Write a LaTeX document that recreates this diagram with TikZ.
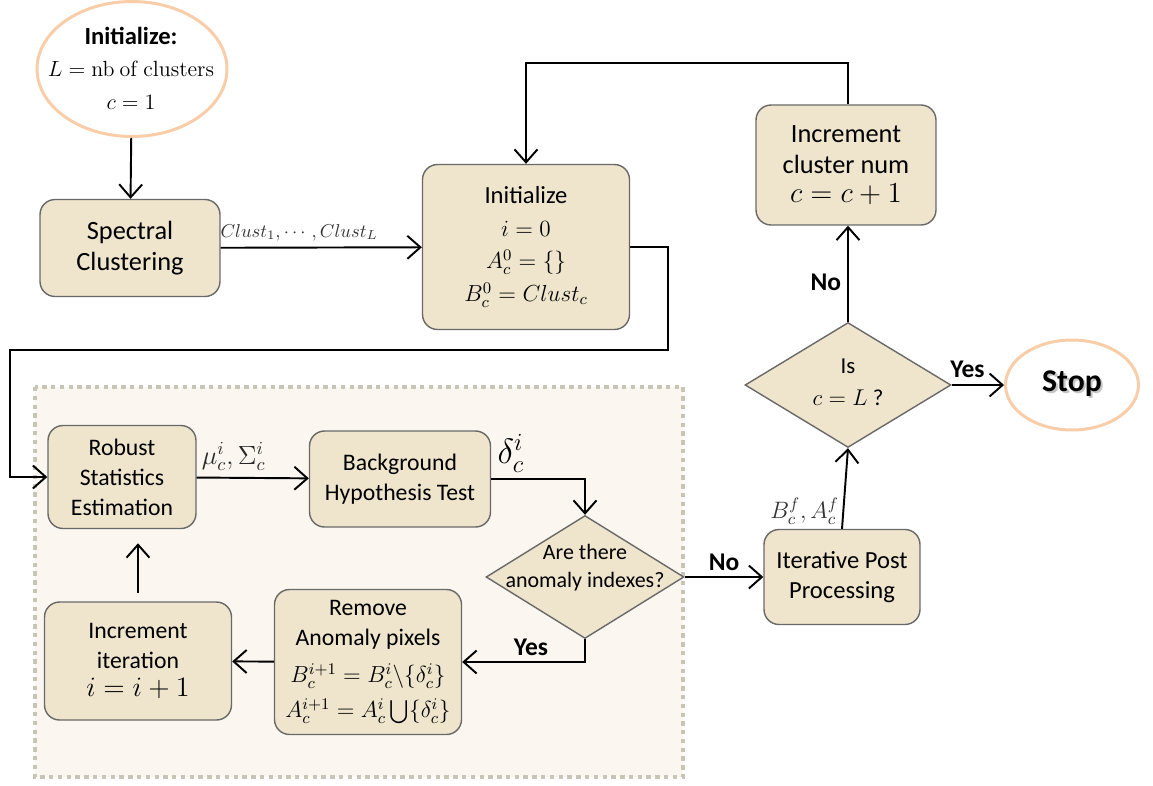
\documentclass[tikz,border=0pt]{standalone}
\usepackage{fix-cm}
\usepackage{amsmath,amssymb}
\usepackage[no-math]{fontspec}
\setmainfont{Carlito}
\usepackage{xcolor}
\usepackage{tikz}
\usetikzlibrary{arrows.meta,positioning,shapes.geometric}

\definecolor{boxfill}{RGB}{239,229,205}
\definecolor{boxline}{RGB}{105,105,105}
\definecolor{loopfill}{RGB}{251,247,240}
\definecolor{loopline}{RGB}{200,196,182}
\definecolor{peach}{RGB}{248,205,168}

\begin{document}
\begin{tikzpicture}[
  x=0.02cm, y=-0.02cm,
  box/.style={rectangle,rounded corners=3mm,draw=boxline,fill=boxfill,line width=0.8pt,
              align=center,font=\fontsize{13.5}{17}\selectfont},
  decision/.style={diamond,draw=boxline,fill=boxfill,line width=0.8pt,inner sep=0pt},
  terminal/.style={ellipse,draw=peach,line width=1.7pt,fill=white,inner sep=0pt},
  flow/.style={-{Straight Barb[length=2.6mm,width=4.6mm]},line width=1.1pt},
  link/.style={line width=1.1pt},
  answer/.style={font=\bfseries\fontsize{14.5}{17}\selectfont},
  mathlbl/.style={font=\fontsize{15}{17}\selectfont,text=black!85}
]
  \useasboundingbox (0,0) rectangle (1153,785);

  % Inner loop area
  \draw[fill=loopfill,draw=loopline,line width=2.2pt,dash pattern=on 2.5pt off 2.5pt]
    (35,387) rectangle (683,777);

  % Nodes
  \node[terminal,minimum width=3.8cm,minimum height=2.7cm] (init) at (132,69) {};
  \node[align=center,font=\fontsize{12.5}{18.5}\selectfont] (inittxt) at (131,68)
    {{\bfseries\fontsize{14}{16}\selectfont Initialize:}\\ $L=\mathrm{nb\ of\ clusters}$\\ $c=1$};
  \node[box,minimum width=3.6cm,minimum height=1.94cm,font=\fontsize{15}{18}\selectfont] (spec) at (130,248)
    {Spectral\\Clustering};
  \node[box,minimum width=4.14cm,minimum height=3.3cm,font=\fontsize{13.2}{18.5}\selectfont] (initc) at (526,247)
    {{\fontsize{14}{17}\selectfont Initialize}\\ $i=0$\\ $A_c^0=\{\}$\\ $B_c^0=Clust_c$};
  \node[box,minimum width=3.6cm,minimum height=2.4cm,font=\fontsize{15}{17.5}\selectfont] (inccl) at (846,165)
    {Increment\\cluster num\\[-1pt] {\fontsize{16.5}{20}\selectfont $c=c+1$}};
  \node[decision,minimum width=4.12cm,minimum height=2.5cm] (isdone) at (848,385) {};
  \node[align=center,font=\fontsize{13}{17}\selectfont] (isdonetxt) at (848,382)
    {Is\\[1pt] $c=L$ ?};
  \node[terminal,minimum width=2.66cm,minimum height=1.8cm] (stop) at (1072,385)
    {\bfseries\fontsize{18}{20}\selectfont\rlap{\kern1.2pt\raisebox{-1.2pt}{\color{gray!45}Stop}}Stop};

  \node[box,minimum width=2.96cm,minimum height=2.06cm] (robust) at (122,477)
    {Robust\\Statistics\\Estimation};
  \node[box,minimum width=3.62cm,minimum height=1.92cm] (bgtest) at (400,479)
    {Background\\Hypothesis Test};
  \node[decision,minimum width=3.96cm,minimum height=2.46cm] (anom) at (585,577) {};
  \node[align=center,font=\fontsize{12.5}{16}\selectfont] (anomtxt) at (585,568)
    {Are there\\anomaly indexes?};
  \node[box,minimum width=3.12cm,minimum height=1.9cm,font=\fontsize{14}{17}\selectfont] (post) at (842,577)
    {Iterative Post\\Processing};
  \node[box,minimum width=3.74cm,minimum height=2.9cm] (remove) at (368,662)
    {Remove\\Anomaly pixels\\[4pt]
     {\fontsize{13.2}{17}\selectfont $B_c^{i+1}=B_c^i\backslash\{\delta_c^i\}$}\\[3pt]
     {\fontsize{13.2}{17}\selectfont $A_c^{i+1}=A_c^i\bigcup\{\delta_c^i\}$}};
  \node[box,minimum width=3.74cm,minimum height=2.36cm] (inciter) at (138,661)
    {Increment\\iteration\\[-1pt] {\fontsize{16}{20}\selectfont $i=i+1$}};

  % Corner points
  \coordinate (r1) at (668,350);
  \coordinate (r2) at (10,350);
  \coordinate (top) at (700,63);

  % Connectors
  \draw[flow] (init) -- (spec);
  \draw[flow] (spec) -- (initc)
    node[pos=0.39,above,font=\fontsize{10.6}{12}\selectfont,text=black!80] {$Clust_1,\cdots,Clust_L$};
  \draw[flow] (initc.east) -| (r1) -- (r2) |- (robust.west);
  \draw[flow] (robust) -- (bgtest)
    node[pos=0.33,above,mathlbl] {$\mu_c^i,\Sigma_c^i$};
  \draw[flow] (bgtest.east) -| (anom.north)
    node[pos=0.02,above right,inner xsep=1pt,font=\fontsize{20}{22}\selectfont] {$\delta_c^i$};
  \draw[flow] (anom.south) |- (remove.east)
    node[pos=0.72,above,answer] {Yes};
  \draw[flow] (anom) -- (post) node[midway,above,answer] {No};
  \draw[flow] (remove) -- (inciter);
  \draw[flow,shorten <=5pt,shorten >=8pt] (inciter.north) -- (inciter.north |- robust.south);
  \draw[flow] (post.north) -- (isdone.south)
    node[pos=0.22,left,inner xsep=2pt,font=\fontsize{13.5}{15}\selectfont,text=black!80] {$B_c^f,A_c^f$};
  \draw[flow] (isdone) -- (stop) node[pos=0.3,above,answer] {Yes};
  \draw[flow] (isdone.north) -- (isdone.north |- inccl.south)
    node[pos=0.41,left,answer] {No};
  \draw[flow] (isdone.north |- inccl.north) |- (top) -| (initc.north);
\end{tikzpicture}
\end{document}
